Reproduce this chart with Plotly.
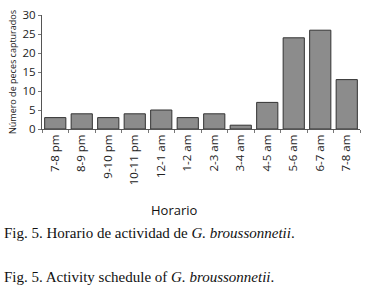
import plotly.graph_objects as go

categories = ["7-8 pm", "8-9 pm", "9-10 pm", "10-11 pm", "12-1 am", "1-2 am",
              "2-3 am", "3-4 am", "4-5 am", "5-6 am", "6-7 am", "7-8 am"]
values = [3, 4, 3, 4, 5, 3, 4, 1, 7, 24, 26, 13]
y_ticks = [0, 5, 10, 15, 20, 25, 30]

W, H = 367, 293
L, R, T, B = 42, 7, 15, 164
pw, ph = W - L - R, H - T - B

def px(x):
    return (x - L) / pw

def py(y):
    return (H - B - y) / ph

fig = go.Figure(go.Bar(
    x=categories, y=values,
    marker=dict(color="#8c8c8c", line=dict(color="#333333", width=1)),
))

fig.update_layout(
    width=W, height=H,
    margin=dict(l=L, r=R, t=T, b=B),
    paper_bgcolor="white", plot_bgcolor="white",
    bargap=0.2,
    showlegend=False,
    font=dict(family="Open Sans", color="#222222"),
    xaxis=dict(
        type="category", showline=True, linecolor="#555555", linewidth=1,
        ticks="outside", tickson="boundaries", ticklen=3, tickcolor="#777777",
        tickangle=-90, tickfont=dict(size=11.5, color="#222222"),
        showgrid=False, automargin=False,
    ),
    yaxis=dict(
        range=[0, 30], tickvals=y_ticks, showline=True, linecolor="#555555",
        linewidth=1, ticks="outside", ticklen=3, tickcolor="#777777",
        tickfont=dict(size=11.5, color="#222222"), showgrid=False, zeroline=False,
        automargin=False,
        title=dict(text="Número de peces capturados", font=dict(size=9, color="#222222"), standoff=4),
    ),
    annotations=[
        dict(text="Horario", xref="paper", yref="paper", x=px(174), y=py(210),
             xanchor="center", yanchor="middle", showarrow=False,
             font=dict(size=13, family="Open Sans", color="#111111")),
        dict(text="Fig. 5. Horario de actividad de <i>G. broussonnetii</i>.",
             xref="paper", yref="paper", x=px(2), y=py(233),
             xanchor="left", yanchor="middle", showarrow=False,
             font=dict(size=15, family="Liberation Serif", color="#111111")),
        dict(text="Fig. 5. Activity schedule of <i>G. broussonnetii</i>.",
             xref="paper", yref="paper", x=px(2), y=py(277),
             xanchor="left", yanchor="middle", showarrow=False,
             font=dict(size=15, family="Liberation Serif", color="#111111")),
    ],
)

fig.write_html("out.html", config={"displayModeBar": False},
               post_script="document.body.style.margin='0';document.body.style.overflow='hidden';")
